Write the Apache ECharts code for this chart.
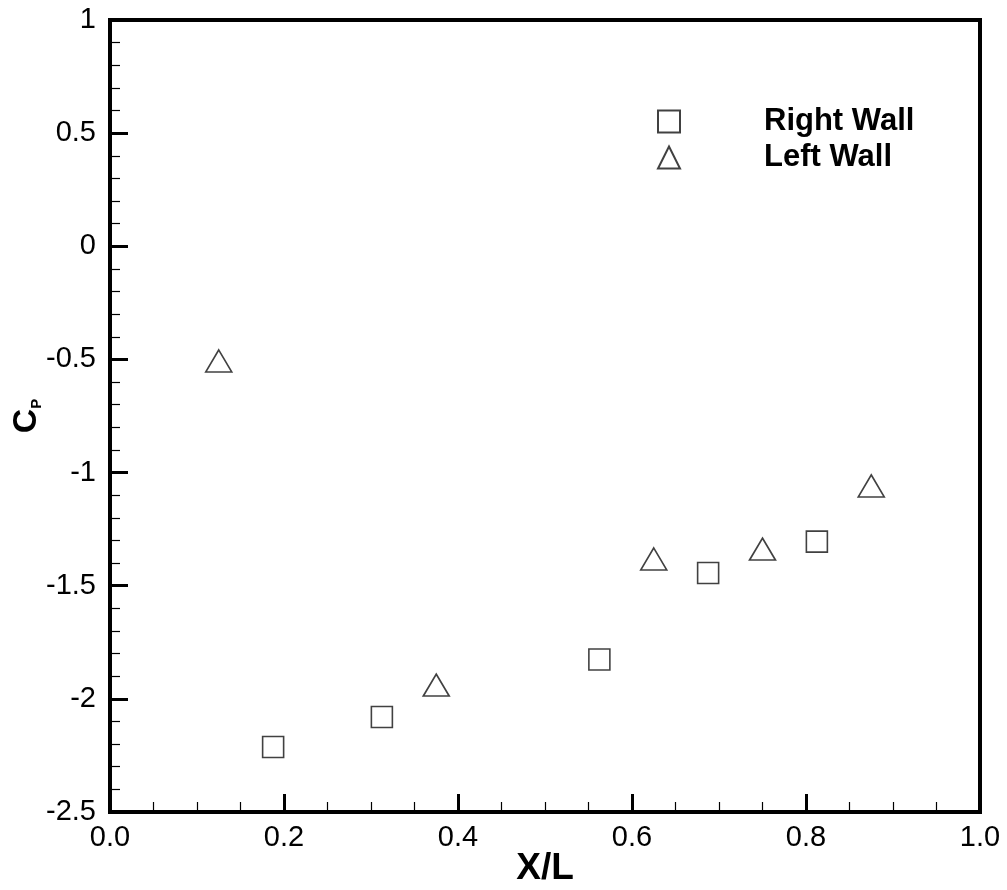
<!DOCTYPE html>
<html>
<head>
<meta charset="utf-8">
<script src="https://cdn.jsdelivr.net/npm/echarts@6/dist/echarts.min.js"></script>
<style>html,body{margin:0;padding:0;background:#fff;}#c{width:1007px;height:890px;}</style>
</head>
<body>
<div id="c"></div>
<script>
const rightWallX = [0.1875, 0.3125, 0.5625, 0.6875, 0.8125];
const rightWallY = [-2.213, -2.080, -1.826, -1.444, -1.305];
const leftWallX = [0.125, 0.375, 0.625, 0.75, 0.875];
const leftWallY = [-0.507, -1.939, -1.382, -1.338, -1.059];
const seriesNames = ['Right Wall', 'Left Wall'];

const FONT = '"Liberation Sans", Arial, Helvetica, sans-serif';
const zip = (xs, ys) => xs.map((x, i) => [x, ys[i]]);

const chart = echarts.init(document.getElementById('c'), null, {renderer: 'canvas'});
chart.setOption({
  animation: false,
  backgroundColor: '#fff',
  grid: {left: 110, right: 27, top: 20, bottom: 78, show: true, borderColor: '#000', borderWidth: 4,
         backgroundColor: 'transparent', containLabel: false, outerBoundsMode: 'none'},
  legend: {
    orient: 'vertical', left: 657, top: 106, padding: 0,
    itemWidth: 22, itemHeight: 22, itemGap: 5,
    data: seriesNames,
    formatter: '{t|{name}}',
    textStyle: {
      rich: {t: {fontFamily: FONT, fontWeight: 'bold', fontSize: 31, color: '#000', padding: [0, 0, 0, 79], lineHeight: 22}}
    }
  },
  xAxis: {
    type: 'value', min: 0, max: 1, interval: 0.2,
    name: 'X/L', nameLocation: 'middle', nameGap: 38, nameMoveOverlap: false,
    nameTextStyle: {fontFamily: FONT, fontWeight: 'bold', fontSize: 37, color: '#000'},
    axisLine: {show: true, onZero: false, lineStyle: {color: '#000', width: 4}},
    axisTick: {show: true, inside: true, length: 18, lineStyle: {color: '#000', width: 3}},
    minorTick: {show: true, splitNumber: 4, length: 10, lineStyle: {color: '#000', width: 1.2}},
    splitLine: {show: false},
    axisLabel: {fontFamily: FONT, fontSize: 29, color: '#000', margin: 11, formatter: v => v.toFixed(1)}
  },
  yAxis: {
    type: 'value', min: -2.5, max: 1, interval: 0.5,
    name: '{c|C}{p|P}', nameLocation: 'middle', nameGap: 66, nameRotate: 90, nameMoveOverlap: false,
    nameTextStyle: {
      rich: {
        c: {fontFamily: FONT, fontWeight: 'bold', fontSize: 34, color: '#000'},
        p: {fontFamily: FONT, fontWeight: 'bold', fontSize: 15, color: '#000', verticalAlign: 'bottom', padding: [12, 0, 0, 0]}
      }
    },
    axisLine: {show: true, onZero: false, lineStyle: {color: '#000', width: 4}},
    axisTick: {show: true, inside: true, length: 18, lineStyle: {color: '#000', width: 3}},
    minorTick: {show: true, splitNumber: 5, length: 10, lineStyle: {color: '#000', width: 1.2}},
    splitLine: {show: false},
    axisLabel: {fontFamily: FONT, fontSize: 29, color: '#000', margin: 14}
  },
  series: [
    {
      name: seriesNames[0], type: 'scatter', symbol: 'rect', symbolSize: 21,
      data: zip(rightWallX, rightWallY),
      itemStyle: {color: 'rgba(255,255,255,0)', borderColor: '#111', borderWidth: 1.6}
    },
    {
      name: seriesNames[1], type: 'scatter', symbol: 'triangle', symbolSize: [26, 22],
      data: zip(leftWallX, leftWallY),
      itemStyle: {color: 'rgba(255,255,255,0)', borderColor: '#111', borderWidth: 1.6}
    }
  ]
});
</script>
</body>
</html>
